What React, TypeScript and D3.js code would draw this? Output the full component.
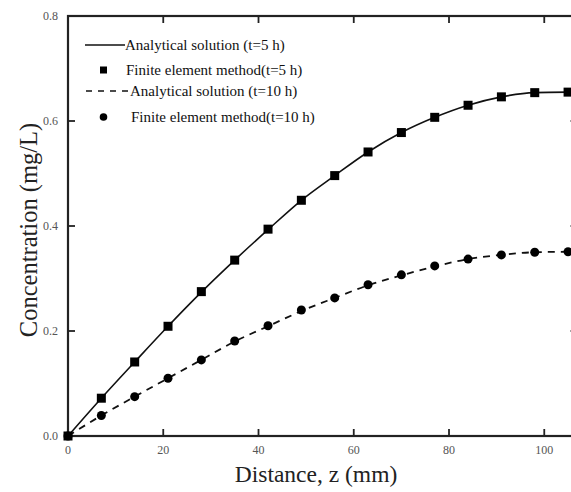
import React, { useEffect, useRef } from 'react';
import * as d3 from 'd3';

// distance (mm) of the computed nodes
const distance = [0, 7, 14, 21, 28, 35, 42, 49, 56, 63, 70, 77, 84, 91, 98, 105];
// concentration (mg/L), t = 5 h
const analytic5 = [0, 0.072, 0.141, 0.209, 0.274, 0.335, 0.393, 0.449, 0.496, 0.541, 0.578, 0.607, 0.63, 0.646, 0.654, 0.655];
const fem5 = [0, 0.072, 0.141, 0.209, 0.275, 0.335, 0.394, 0.449, 0.496, 0.541, 0.578, 0.607, 0.63, 0.646, 0.654, 0.655];
// concentration (mg/L), t = 10 h
const analytic10 = [0, 0.039, 0.075, 0.11, 0.145, 0.18, 0.209, 0.238, 0.263, 0.287, 0.306, 0.323, 0.337, 0.345, 0.35, 0.351];
const fem10 = [0, 0.039, 0.075, 0.11, 0.145, 0.181, 0.21, 0.24, 0.263, 0.288, 0.307, 0.324, 0.337, 0.345, 0.35, 0.351];

const xTicks = [0, 20, 40, 60, 80, 100];
const yTicks = [0, 0.2, 0.4, 0.6, 0.8];

const legendItems = [
  { label: 'Analytical solution (t=5 h)', kind: 'solid' },
  { label: 'Finite element method(t=5 h)', kind: 'square' },
  { label: 'Analytical solution (t=10 h)', kind: 'dashed' },
  { label: 'Finite element method(t=10 h)', kind: 'circle' },
];

const W = 571, H = 492;
const xMax = 107;
const x = d3.scaleLinear().domain([0, xMax]).range([68, 577.6]);
const y = d3.scaleLinear().domain([0, 0.8]).range([436, 16]);
const font = '"Liberation Serif", "Times New Roman", serif';
const axisColor = '#222';

export default function App() {
  const ref = useRef<SVGGElement>(null);

  useEffect(() => {
    const g = d3.select(ref.current);
    g.selectAll('*').remove();

    const line = (vals: number[]) =>
      d3.line<number>().x((_, i) => x(distance[i])).y(d => y(d)).curve(d3.curveMonotoneX)(vals);

    g.append('path').attr('d', line(analytic5)).attr('fill', 'none')
      .attr('stroke', '#111').attr('stroke-width', 1.6);
    g.append('path').attr('d', line(analytic10)).attr('fill', 'none')
      .attr('stroke', '#111').attr('stroke-width', 1.8).attr('stroke-dasharray', '7,6');

    const sq = 9;
    g.selectAll('rect.fem5').data(fem5).enter().append('rect')
      .attr('class', 'fem5')
      .attr('x', (_, i) => x(distance[i]) - sq / 2).attr('y', d => y(d) - sq / 2)
      .attr('width', sq).attr('height', sq).attr('fill', '#000');
    g.selectAll('circle.fem10').data(fem10).enter().append('circle')
      .attr('class', 'fem10')
      .attr('cx', (_, i) => x(distance[i])).attr('cy', d => y(d))
      .attr('r', 4.5).attr('fill', '#000');
  }, []);

  const tl = 7;
  const x0 = x(0), x1 = x(xMax), y0 = y(0), y1 = y(0.8);

  return (
    <svg width={W} height={H} viewBox={`0 0 ${W} ${H}`}
      style={{ position: 'absolute', left: 0, top: 0, background: '#fff', display: 'block' }}>
      {/* frame */}
      <rect x={x0} y={y1} width={x1 - x0} height={y0 - y1} fill="none" stroke={axisColor} strokeWidth={2.2} />

      {xTicks.map(t => (
        <g key={'x' + t}>
          <line x1={x(t)} x2={x(t)} y1={y0} y2={y0 - tl} stroke={axisColor} strokeWidth={1.8} />
          <line x1={x(t)} x2={x(t)} y1={y1} y2={y1 + tl} stroke={axisColor} strokeWidth={1.8} />
          <text x={x(t)} y={y0 + 18} textAnchor="middle" fontFamily={font} fontSize={12} fill="#555">{t}</text>
        </g>
      ))}
      {yTicks.map(t => (
        <g key={'y' + t}>
          <line x1={x0} x2={x0 + tl} y1={y(t)} y2={y(t)} stroke={axisColor} strokeWidth={1.8} />
          <line x1={x1} x2={x1 - tl} y1={y(t)} y2={y(t)} stroke={axisColor} strokeWidth={1.8} />
          <text x={58} y={y(t) + 4} textAnchor="end" fontFamily={font} fontSize={12} fill="#555">
            {d3.format('.1f')(t)}
          </text>
        </g>
      ))}

      <text x={316} y={482} textAnchor="middle" fontFamily={font} fontSize={23.5} fill="#222">
        Distance, z (mm)
      </text>
      <text transform={`translate(37,${y(0.4) + 4}) rotate(-90)`} textAnchor="middle"
        fontFamily={font} fontSize={24.5} fill="#222">
        Concentration (mg/L)
      </text>

      <g ref={ref} />

      {/* legend */}
      {legendItems.map((item, i) => {
        const yy = [45, 70, 91, 117][i];
        const tx = [125, 126, 130, 131][i];
        return (
          <g key={item.label}>
            {item.kind === 'solid' && <line x1={85} x2={125} y1={yy} y2={yy} stroke="#111" strokeWidth={1.5} />}
            {item.kind === 'dashed' && <line x1={86} x2={128} y1={yy} y2={yy} stroke="#111" strokeWidth={1.5} strokeDasharray="6,6" />}
            {item.kind === 'square' && <rect x={100} y={yy - 3.5} width={7} height={7} fill="#000" />}
            {item.kind === 'circle' && <circle cx={103.5} cy={yy} r={3.8} fill="#000" />}
            <text x={tx} y={yy + 5} fontFamily={font} fontSize={15} fill="#111">{item.label}</text>
          </g>
        );
      })}
    </svg>
  );
}
